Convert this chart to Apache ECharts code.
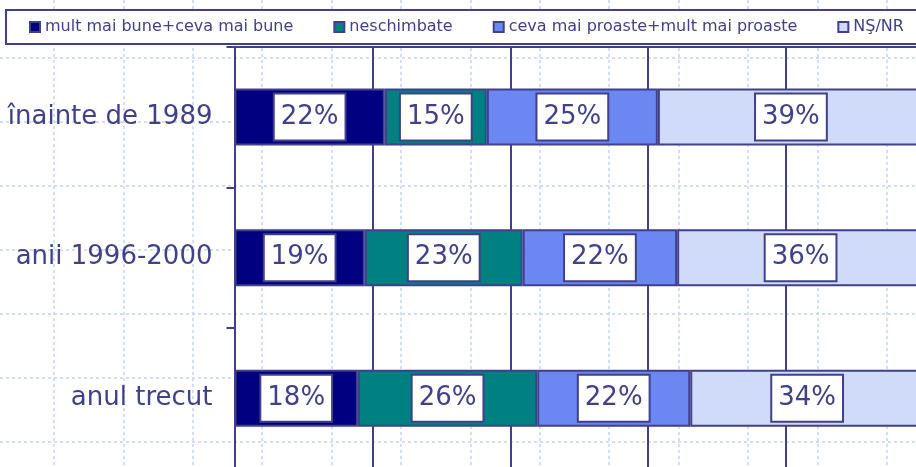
<!DOCTYPE html>
<html><head><meta charset="utf-8">
<script src="https://cdn.jsdelivr.net/npm/echarts@6/dist/echarts.min.js"></script>
<style>html,body{margin:0;padding:0;background:#fff}#c{width:916px;height:467px}</style>
</head><body><div id="c"></div>
<script>
const categories = ['înainte de 1989', 'anii 1996-2000', 'anul trecut'];
const seriesNames = ['mult mai bune+ceva mai bune', 'neschimbate', 'ceva mai proaste+mult mai proaste', 'NŞ/NR'];
const better = [21.8, 18.9, 17.9];
const same = [14.8, 22.9, 26.0];
const worse = [24.8, 22.4, 22.2];
const dk = [38.6, 35.8, 33.9];
const xTicks = [0, 20, 40, 60, 80, 100];

const colors = ['#000080', '#008080', '#6b87f2', '#cfdbf9'];
const ink = '#40408c';
const font = 'DejaVu Sans';
const dash = {show: true, lineStyle: {color: '#c5d3f7', width: 1.5, type: [3, 3]}};
const hidden = {axisLine: {show: false}, axisTick: {show: false}, axisLabel: {show: false}};

const chart = echarts.init(document.getElementById('c'), null, {renderer: 'canvas'});
const vals = [better, same, worse, dk];
const series = vals.map((v, i) => ({
  name: seriesNames[i], type: 'bar', stack: 't', data: v,
  xAxisIndex: 0, yAxisIndex: 0, barWidth: 57, z: 3,
  itemStyle: {color: colors[i], borderColor: ink, borderWidth: 2},
  label: {show: true, position: 'inside', formatter: p => Math.round(p.value) + '%',
    color: ink, fontFamily: font, fontSize: 26, backgroundColor: '#fff',
    borderColor: ink, borderWidth: 2, padding: [11, 6, 8, 6]}
}));
// decorative dashed background grid (vertical & horizontal)
series.push({type: 'scatter', data: [], xAxisIndex: 1, yAxisIndex: 1, silent: true});
series.push({type: 'scatter', data: [], xAxisIndex: 2, yAxisIndex: 2, silent: true});

chart.setOption({
  animation: false,
  backgroundColor: '#fff',
  legend: {
    data: seriesNames, left: 6, top: 10, width: 1100, itemWidth: 10, itemHeight: 10, itemGap: 40, icon: 'rect',
    padding: [9, 60, 9, 23], backgroundColor: '#fff', borderColor: ink, borderWidth: 2,
    textStyle: {color: ink, fontFamily: font, fontSize: 16}, z: 10
  },
  grid: [
    {left: 234.5, width: 689.5, top: 46.7, height: 422, outerBoundsMode: 'none', containLabel: false},
    {left: 54, top: 0, width: 902.2, height: 467, outerBoundsMode: 'none'},
    {left: 0, top: -6, width: 916, height: 512, outerBoundsMode: 'none'}
  ],
  xAxis: [
    {type: 'value', gridIndex: 0, min: xTicks[0], max: xTicks[xTicks.length - 1], interval: xTicks[1] - xTicks[0],
     position: 'top',
     axisLine: {show: true, lineStyle: {color: ink, width: 2}}, axisTick: {show: false}, axisLabel: {show: false},
     splitLine: {show: true, lineStyle: {color: ink, width: 2}}, z: 2},
    Object.assign({type: 'value', gridIndex: 1, min: 0, max: 13, interval: 1, splitLine: dash, z: 0}, hidden),
    Object.assign({type: 'value', gridIndex: 2, min: 0, max: 1, splitLine: {show: false}, z: 0}, hidden)
  ],
  yAxis: [
    {type: 'category', gridIndex: 0, data: categories, inverse: true,
     axisLine: {show: true, lineStyle: {color: ink, width: 2}},
     axisTick: {show: true, length: 8, lineStyle: {color: ink, width: 2}},
     axisLabel: {color: ink, fontFamily: font, fontSize: 26, margin: 22}, z: 2},
    Object.assign({type: 'value', gridIndex: 1, min: 0, max: 1, splitLine: {show: false}, z: 0}, hidden),
    Object.assign({type: 'value', gridIndex: 2, min: 0, max: 8, interval: 1, splitLine: dash, z: 0}, hidden)
  ],
  series
});
</script></body></html>
